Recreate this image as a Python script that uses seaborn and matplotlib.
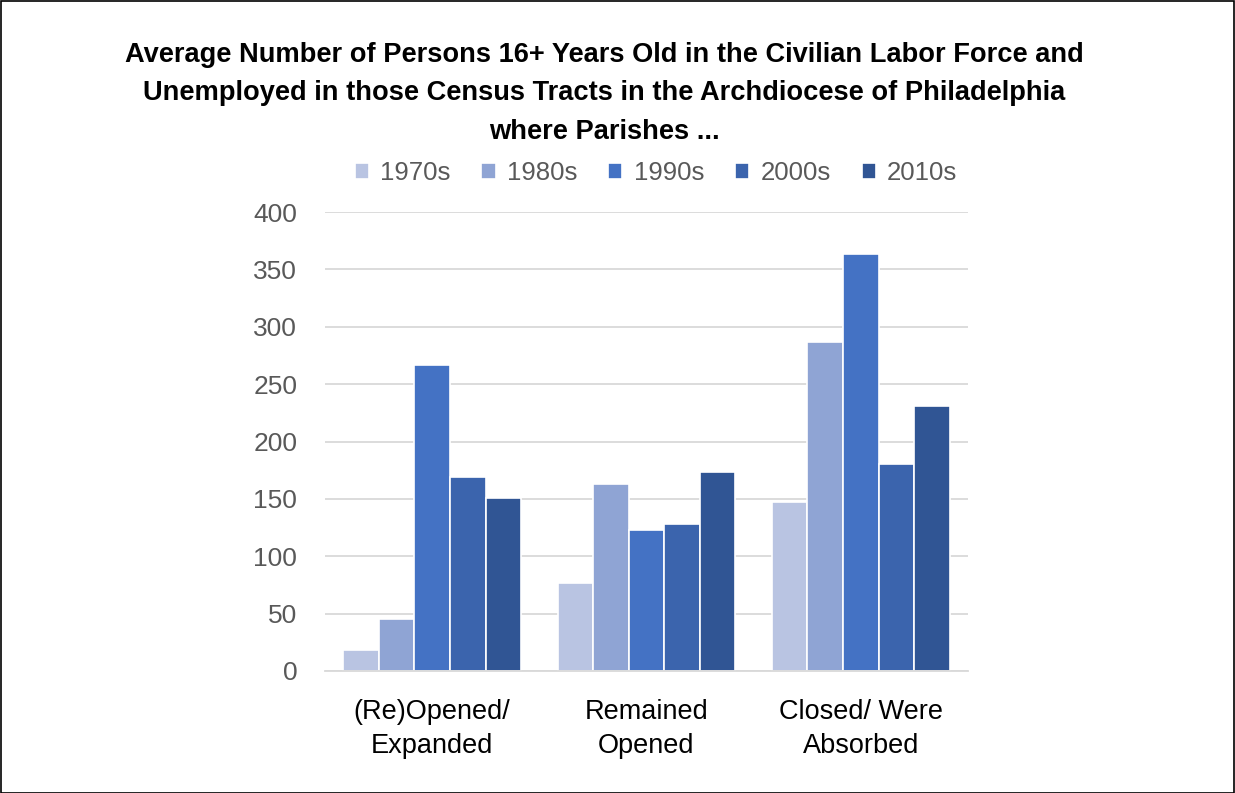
import matplotlib
matplotlib.use("Agg")
import matplotlib.pyplot as plt
import seaborn as sns
import pandas as pd
from matplotlib.patches import Rectangle

categories = ["(Re)Opened/\nExpanded", "Remained\nOpened", "Closed/ Were\nAbsorbed"]
decades = ["1970s", "1980s", "1990s", "2000s", "2010s"]
v1970s = [18, 77, 147]
v1980s = [45, 163, 287]
v1990s = [267, 123, 363]
v2000s = [169, 128, 180]
v2010s = [151, 173, 231]
colors = ["#B9C4E2", "#8FA4D4", "#4472C4", "#3B64AD", "#305594"]

series = [v1970s, v1980s, v1990s, v2000s, v2010s]
rows = []
for d, vals in zip(decades, series):
    for c, v in zip(categories, vals):
        rows.append({"Category": c, "Decade": d, "Value": v})
df = pd.DataFrame(rows)

sns.set_theme(style="white")
plt.rcParams["font.family"] = ["Liberation Sans", "DejaVu Sans"]

W, H = 1235, 793
fig = plt.figure(figsize=(W / 100, H / 100), dpi=100)
ax = fig.add_axes([325 / W, (H - 671) / H, 643 / W, 459 / H])

sns.barplot(data=df, x="Category", y="Value", hue="Decade", order=categories,
            hue_order=decades, palette=colors, width=0.83, ax=ax,
            edgecolor="white", linewidth=1.2, saturation=1, legend=True)

ax.set_ylim(0, 400)
ax.set_xlim(-0.5, 2.5)
ax.set_yticks(range(0, 401, 50))
ax.yaxis.grid(True, color="#D9D9D9", linewidth=1.3)
ax.set_axisbelow(True)
for s in ["top", "right", "left"]:
    ax.spines[s].set_visible(False)
ax.spines["bottom"].set_color("#D9D9D9")
ax.spines["bottom"].set_linewidth(1.3)
ax.set_xlabel("")
ax.set_ylabel("")
ax.tick_params(axis="y", length=0, pad=20, labelsize=19, labelcolor="#595959")
ax.tick_params(axis="x", which="major", length=0, pad=20, labelsize=19.5, labelcolor="#000000")
ax.set_xticks([-0.5, 0.5, 1.5, 2.5], minor=True)
ax.tick_params(axis="x", which="minor", length=10, color="#D9D9D9", width=1.3)
for lab in ax.get_xticklabels():
    lab.set_linespacing(1.4)

handles, labels = ax.get_legend_handles_labels()
ax.get_legend().remove()
fig.legend(handles, labels, loc="center", bbox_to_anchor=(656 / W, 1 - 173 / H),
           ncol=5, frameon=False, fontsize=18.5, labelcolor="#595959",
           handlelength=0.55, handleheight=0.55, handletextpad=0.43, columnspacing=1.22)

fig.text(604 / W, 1 - 93.5 / H,
         "Average Number of Persons 16+ Years Old in the Civilian Labor Force and\n"
         "Unemployed in those Census Tracts in the Archdiocese of Philadelphia\n"
         "where Parishes ...",
         ha="center", va="center", fontsize=19.6, fontweight="bold", linespacing=1.63,
         color="black")

fig.patches.append(Rectangle((0.5 / W, 0.5 / H), 1 - 1.5 / W, 1 - 1.5 / H, transform=fig.transFigure,
                             fill=False, edgecolor="black", linewidth=1.2))

fig.savefig("out.png", dpi=100)
